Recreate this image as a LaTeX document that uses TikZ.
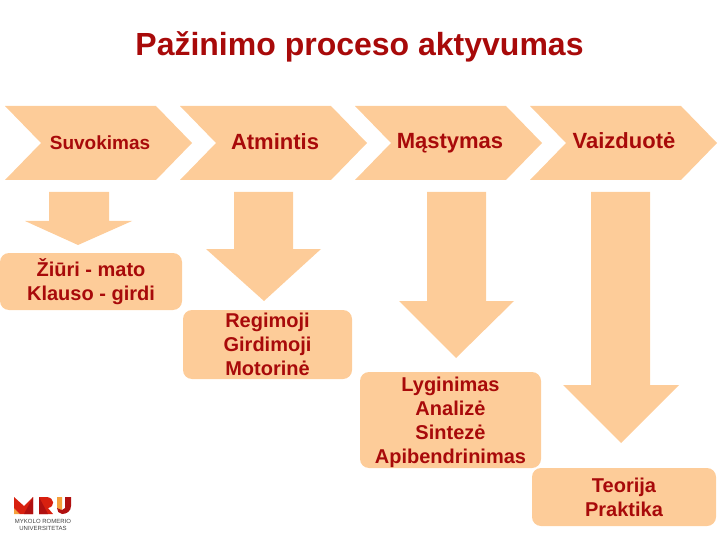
\documentclass[tikz,border=0pt]{standalone}
\usepackage{fontspec}
\setmainfont{Liberation Sans}
\usepackage{tikz}
\usetikzlibrary{positioning}
\definecolor{peach}{HTML}{FDCC99}
\definecolor{darkred}{HTML}{A80A0A}
\definecolor{logored}{HTML}{D8200F}
\definecolor{logodark}{HTML}{B01010}
\definecolor{logoorange}{HTML}{F5A13C}
\tikzset{
  lbl/.style={text=darkred,inner sep=0pt,anchor=base},
  stagebox/.style={text=darkred,inner sep=0pt,fill=peach,rounded corners=9pt,align=center,font=\bfseries\fontsize{20}{24}\selectfont},
  blockarrow/.style={fill=peach},
}
\begin{document}
\begin{tikzpicture}[x=1pt,y=-1pt,line cap=round,line join=round]
\path[use as bounding box] (0,0) rectangle (720,540);
\node[lbl,font=\bfseries\fontsize{32}{36}\selectfont] (title) at (359.5,56) {Pažinimo proceso aktyvumas};
% chevrons
\fill[blockarrow] (5,106)--(156,106)--(192,143)--(156,180)--(5,180)--(41,143)--cycle;
\fill[blockarrow] (180,106)--(331,106)--(367,143)--(331,180)--(180,180)--(216,143)--cycle;
\fill[blockarrow] (355,106)--(506,106)--(542,143)--(506,180)--(355,180)--(391,143)--cycle;
\fill[blockarrow] (530,106)--(681,106)--(717,143)--(681,180)--(530,180)--(566,143)--cycle;
\node[lbl,font=\bfseries\fontsize{19}{22}\selectfont] (suvokimas) at (100,150) {Suvokimas};
\node[lbl,font=\bfseries\fontsize{22}{26}\selectfont] (atmintis) at (275,150) {Atmintis};
\node[lbl,font=\bfseries\fontsize{22}{26}\selectfont] (mastymas) at (450,149) {Mąstymas};
\node[lbl,font=\bfseries\fontsize{22}{26}\selectfont] (vaizduote) at (624,149) {Vaizduotė};
% down arrows
\fill[blockarrow] (49,192)--(109,192)--(109,221)--(132,221)--(78,245)--(25,221)--(49,221)--cycle;
\fill[blockarrow] (234,192)--(293,192)--(293,249)--(321,249)--(264,301)--(206,249)--(234,249)--cycle;
\fill[blockarrow] (427,192)--(486,192)--(486,301)--(514,301)--(456,358)--(399,301)--(427,301)--cycle;
\fill[blockarrow] (591,192)--(650,192)--(650,385)--(679,385)--(621,443)--(563,385)--(591,385)--cycle;
% boxes
\node[stagebox,minimum width=182pt,minimum height=57pt] (pojuciai) at (91,281.5) {\rule{0pt}{16.5pt}Žiūri - mato\\Klauso - girdi};
\node[stagebox,minimum width=169pt,minimum height=69pt] (atmintys) at (267.5,344.5) {Regimoji\\Girdimoji\\Motorinė};
\node[stagebox,minimum width=181pt,minimum height=96pt] (veiksmai) at (450.5,420) {\rule{0pt}{18.5pt}Lyginimas\\Analizė\\Sintezė\\Apibendrinimas};
\node[stagebox,minimum width=184pt,minimum height=58pt] (rezultatai) at (624,497) {Teorija\\Praktika};
% logo
\fill[logoorange] (14,514)--(20,514)--(14,508)--cycle;
\fill[logored] (14,497)--(24,506)--(33,497)--(33,514)--(20,514)--(14,508)--cycle;
\fill[logodark] (33,497)--(33,514)--(24,514)--cycle;
\fill[logored] (39,497)--(47,497)..controls (55,498) and (55,507) .. (48,508)--(53,514)--(39,514)--cycle;
\fill[logodark] (39,497)--(39,514)--(48,514)--cycle;
\fill[logoorange] (57,497)--(62,497)--(62,510)--(57,508)--cycle;
\fill[logodark] (65,497)--(71,497)--(71,506)..controls (71,511) and (67,514) .. (62,514)..controls (59,514) and (57,511) .. (57,508)--(62,510)--(65,508)--cycle;
\node[inner sep=0pt,align=center,text=black!75,font=\fontsize{6}{6.5}\selectfont] (universitetas) at (43,525) {MYKOLO ROMERIO\\UNIVERSITETAS};
\end{tikzpicture}
\end{document}
